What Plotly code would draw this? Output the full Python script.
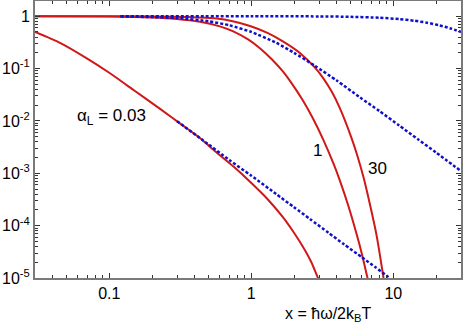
import plotly.graph_objects as go

# red solid curves
red_003_x = [0.03, 0.045, 0.07, 0.1, 0.15, 0.228, 0.325, 0.435, 0.556, 0.75, 0.98, 1.29, 1.67, 2.0, 2.31, 2.65, 2.95, 3.1]
red_003_y = [0.5, 0.31, 0.155, 0.083, 0.038, 0.017, 0.0084, 0.0047, 0.00263, 0.00134, 6.9e-4, 3.3e-4, 1.45e-4, 7.3e-5, 3.95e-5, 2.0e-5, 1.0e-5, 7.5e-6]

red_1_x = [0.03, 0.1, 0.2, 0.3, 0.435, 0.6, 0.74, 0.95, 1.15, 1.4, 1.67, 1.9, 2.3, 2.72, 3.2, 3.77, 4.22, 4.8, 5.56, 6.0, 6.53, 6.8]
red_1_y = [1.0, 0.985, 0.947, 0.886, 0.78, 0.639, 0.518, 0.36, 0.245, 0.149, 0.088, 0.055, 0.025, 0.0111, 0.0045, 0.00159, 7.1e-4, 2.5e-4, 6.4e-5, 2.95e-5, 1.1e-5, 6.8e-6]

red_30_x = [0.03, 0.1, 0.2, 0.35, 0.57, 0.74, 0.98, 1.3, 1.67, 2.2, 2.8, 3.2, 3.7, 4.22, 5.1, 5.56, 6.2, 6.86, 7.6, 8.47, 8.7]
red_30_y = [1.0, 1.0, 0.987, 0.96, 0.9, 0.8, 0.65, 0.48, 0.33, 0.198, 0.105, 0.0665, 0.0356, 0.0172, 0.0046, 0.00226, 8.0e-4, 2.5e-4, 6.9e-5, 1.15e-5, 7e-6]

# blue dotted curves
blue_003_x = [0.3, 0.45, 0.7, 1.0, 1.5, 2.0, 2.6, 3.5, 4.5, 6.0, 7.5, 9.2, 9.5]
blue_003_y = [0.0099, 0.0044, 0.0018, 9e-4, 4e-4, 2.25e-4, 1.33e-4, 7.3e-5, 4.4e-5, 2.5e-5, 1.6e-5, 1.05e-5, 9.5e-6]

blue_1_x = [0.12, 0.2, 0.3, 0.5, 0.7, 1.0, 1.5, 2.0, 2.8, 4.0, 5.84, 8.0, 11, 15, 20, 30]
blue_1_y = [0.985, 0.96, 0.92, 0.8, 0.67, 0.5, 0.31, 0.2, 0.113, 0.059, 0.028, 0.0154, 0.0082, 0.0044, 0.0025, 0.0011]

blue_30_x = [0.12, 1.0, 3.0, 5.0, 8.0, 11, 14, 17.3, 21, 25, 30]
blue_30_y = [1.0, 1.0, 0.99, 0.973, 0.934, 0.88, 0.82, 0.75, 0.67, 0.59, 0.5]

x_ticks = [0.1, 1, 10]
x_ticktext = ['0.1', '1', '10']
x_minor = [0.04, 0.05, 0.06, 0.07, 0.08, 0.09, 0.2, 0.3, 0.4, 0.5, 0.6, 0.7, 0.8, 0.9,
           2, 3, 4, 5, 6, 7, 8, 9, 20, 30]
y_ticks = [1e-5, 1e-4, 1e-3, 1e-2, 1e-1, 1]
y_ticktext = ['10<sup>-5</sup>', '10<sup>-4</sup>', '10<sup>-3</sup>', '10<sup>-2</sup>', '10<sup>-1</sup>', '1']
y_minor = [m * 10.0 ** e for e in range(-5, 1) for m in range(2, 10) if m * 10.0 ** e < 2.1]

red = '#d01818'
blue = '#1010c8'

fig = go.Figure()

for xs, ys in [(red_003_x, red_003_y), (red_1_x, red_1_y), (red_30_x, red_30_y)]:
    fig.add_trace(go.Scatter(x=xs, y=ys, mode='lines',
                             line=dict(color=red, width=2, shape='spline', smoothing=0.6)))

for xs, ys in [(blue_003_x, blue_003_y), (blue_1_x, blue_1_y), (blue_30_x, blue_30_y)]:
    fig.add_trace(go.Scatter(x=xs, y=ys, mode='lines',
                             line=dict(color=blue, width=2.5, dash='3px,2px', shape='spline', smoothing=0.6)))

axis_common = dict(
    type='log',
    automargin=False,
    showline=True,
    linecolor='#7a7a7a',
    linewidth=2,
    mirror='ticks',
    ticks='inside',
    ticklen=5,
    tickwidth=1,
    tickcolor='#333333',
    showgrid=False,
    zeroline=False,
    tickfont=dict(family='Arial', size=16, color='black'),
)

fig.update_xaxes(
    range=[-1.523, 1.477],
    tickmode='array', tickvals=x_ticks, ticktext=x_ticktext,
    minor=dict(tickmode='array', tickvals=x_minor, ticks='inside', ticklen=3, tickcolor='#333333', showgrid=False),
    **axis_common
)
fig.update_yaxes(
    range=[-5, 0.29],
    tickmode='array', tickvals=y_ticks, ticktext=y_ticktext,
    minor=dict(tickmode='array', tickvals=y_minor, ticks='inside', ticklen=3, tickcolor='#333333', showgrid=False),
    **axis_common
)

label_font = dict(family='Arial', size=17, color='black')

fig.update_layout(
    width=463,
    height=327,
    margin=dict(l=35, r=2, t=1, b=49),
    plot_bgcolor='white',
    paper_bgcolor='white',
    showlegend=False,
    annotations=[
        dict(x=0.094, y=0.581, xref='paper', yref='paper', xanchor='left', yanchor='middle',
             text='α<sub>L</sub> = 0.03', showarrow=False, font=label_font),
        dict(x=0.664, y=0.462, xref='paper', yref='paper', xanchor='center', yanchor='middle',
             text='1', showarrow=False, font=label_font),
        dict(x=0.805, y=0.394, xref='paper', yref='paper', xanchor='center', yanchor='middle',
             text='30', showarrow=False, font=label_font),
        dict(x=0.688, y=-0.13, xref='paper', yref='paper', xanchor='center', yanchor='middle',
             text='x = ħω/2k<sub>B</sub>T', showarrow=False, font=dict(family='Arial', size=16, color='black')),
    ],
)

# the page body keeps a default margin; drop it so the figure sits at the corner
fig.write_html("out.html", config={'displayModeBar': False},
               post_script="document.body.style.margin='0px';")
